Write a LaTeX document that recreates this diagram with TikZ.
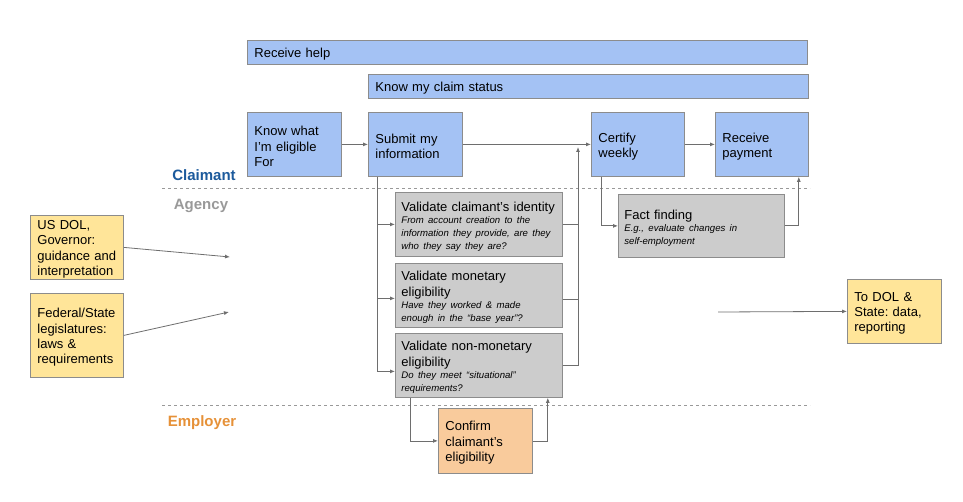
\documentclass[tikz,border=0pt]{standalone}
\usepackage{fontspec}
\setmainfont{Liberation Sans}
\usetikzlibrary{arrows.meta}

\definecolor{claimblue}{HTML}{A4C2F4}
\definecolor{agencygray}{HTML}{CCCCCC}
\definecolor{employerorange}{HTML}{F9CB9C}
\definecolor{outsideyellow}{HTML}{FFE599}
\definecolor{boxline}{HTML}{8C8C8C}
\definecolor{flowline}{HTML}{6E6E6E}
\definecolor{claimtext}{HTML}{1C5A9C}
\definecolor{agencytext}{HTML}{999999}
\definecolor{employertext}{HTML}{E69138}

\newcommand{\detail}[1]{\par{\fontsize{9.6}{12.6}\selectfont\itshape\raggedright #1\par}}
\newcommand{\boxnudge}{\endgraf\vspace{-4pt}}

\begin{document}
\frenchspacing
\hyphenpenalty=10000
\exhyphenpenalty=10000
\begin{tikzpicture}[x=1pt,y=-1pt,
  box/.style={draw=boxline, line width=0.8pt, anchor=north west, align=left,
    inner xsep=7pt, inner ysep=0pt, font=\fontsize{13}{15.3}\selectfont,
    execute at end node=\boxnudge},
  claimbox/.style={box, fill=claimblue},
  agencybox/.style={box, fill=agencygray, inner xsep=6pt},
  employerbox/.style={box, fill=employerorange},
  outsidebox/.style={box, fill=outsideyellow},
  lane/.style={draw=agencytext, line width=0.8pt, dash pattern=on 3pt off 3pt},
  lanelabel/.style={font=\fontsize{15}{18}\selectfont\bfseries},
  flow/.style={draw=flowline, line width=0.8pt, -{Latex[length=5pt,width=4pt]}}]
  \useasboundingbox (0,0) rectangle (963,502);

  \node [claimbox, text width=546, minimum height=24] (help) at (247,40) {Receive help};
  \node [claimbox, text width=426, minimum height=24] (status) at (368,74) {Know my claim status};
  \node [claimbox, text width=80, minimum height=64] (know) at (247,112) {Know what\\I'm eligible\\For};
  \node [claimbox, text width=80, minimum height=64] (submit) at (368,112) {Submit my\\information};
  \node [claimbox, text width=79, minimum height=64] (certify) at (591,112) {Certify\\weekly};
  \node [claimbox, text width=79, minimum height=64] (payment) at (715,112) {Receive\\payment};

  \node [lanelabel, text=claimtext] (claimant) at (204,175) {Claimant};
  \node [lanelabel, text=agencytext] (agency) at (201,206) {Agency};
  \node [lanelabel, text=employertext] (employer) at (202,423) {Employer};
  \draw [lane] (162,188) -- (810,188);
  \draw [lane] (162,405) -- (810,405);

  \node [agencybox, text width=155, minimum height=64] (identity) at (395,192)
    {Validate claimant's identity\detail{From account creation to the\\information they provide, are they\\who they say they are?}};
  \node [agencybox, text width=155, minimum height=64] (monetary) at (395,263)
    {Validate monetary\\eligibility\detail{Have they worked \& made\\enough in the ``base year''?}};
  \node [agencybox, text width=155, minimum height=64] (nonmon) at (395,333)
    {Validate non-monetary\\eligibility\detail{Do they meet ``situational''\\requirements?}};
  \node [agencybox, text width=154, minimum height=63] (fact) at (618,194)
    {Fact finding\detail{E.g., evaluate changes in\\self-employment}};

  \node [employerbox, text width=80, minimum height=65] (confirm) at (438,408) {Confirm\\claimant's\\eligibility};

  \node [outsidebox, text width=79, minimum height=64] (usdol) at (30,215) {US DOL,\\Governor:\\guidance and\\interpretation};
  \node [outsidebox, text width=79, minimum height=84] (fedstate) at (30,293) {Federal/State\\legislatures:\\laws \&\\requirements};
  \node [outsidebox, text width=80, minimum height=64] (todol) at (847,279) {To DOL \&\\State: data,\\reporting};

  \coordinate (rulesin) at (230,257);
  \coordinate (lawsin) at (229,312);
  \coordinate (reportout) at (718,312);
  \coordinate (split) at ([xshift=9]submit.south west);
  \coordinate (merge) at (578,147);

  \draw [flow] (know.east) -- (submit.west);
  \draw [flow] (submit.east) -- (certify.west);
  \draw [flow] (certify.east) -- (payment.west);
  \draw [flow] (split) |- ([yshift=-6]nonmon.west);
  \draw [flow] (identity.west -| split) -- (identity.west);
  \draw [flow] ([yshift=-3]monetary.west -| split) -- ([yshift=-3]monetary.west);
  \draw [flow] (nonmon.east) -| (merge);
  \draw [flow, -] (identity.east) -- (identity.east -| merge);
  \draw [flow, -] ([yshift=-4]monetary.east) -- ([yshift=-4]monetary.east -| merge);
  \draw [flow] ([xshift=15]nonmon.south west) |- (confirm.west);
  \draw [flow] (confirm.east) -| ([xshift=-15]nonmon.south east);
  \draw [flow] ([xshift=10]certify.south west) |- (fact.west);
  \draw [flow] (fact.east) -| ([xshift=-10]payment.south east);
  \draw [flow] (usdol.east) -- (rulesin);
  \draw [flow] (fedstate.east) -- (lawsin);
  \draw [flow] (reportout) -- (todol.west);
\end{tikzpicture}
\end{document}
